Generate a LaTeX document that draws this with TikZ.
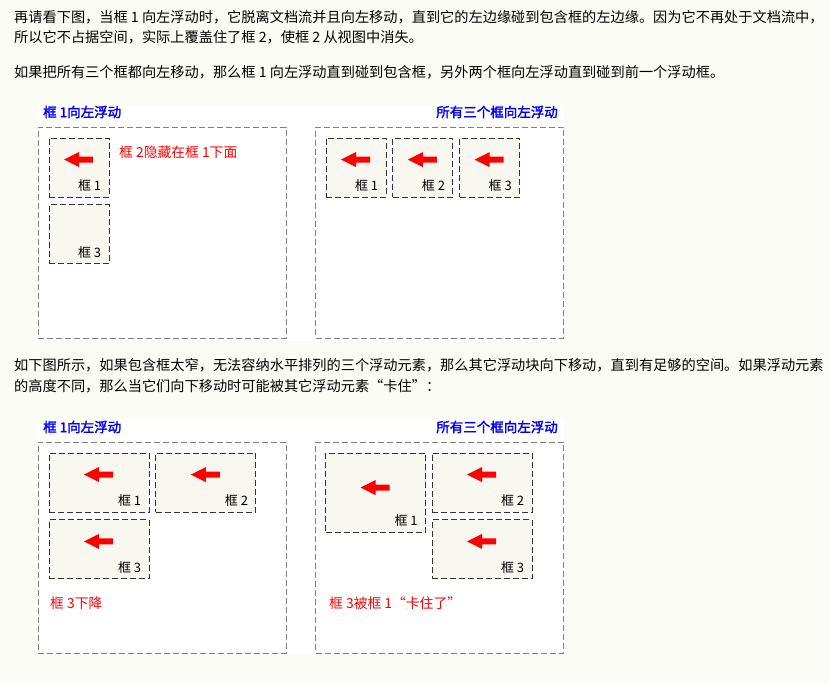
\documentclass[tikz,border=0pt]{standalone}
\usepackage{fontspec}
\setmainfont{Noto Sans CJK SC}
\newfontfamily\titlefont{Noto Sans CJK SC}[FakeBold=2]
\usetikzlibrary{positioning}
\definecolor{pagebg}{RGB}{252,252,246}
\definecolor{boxfill}{RGB}{248,247,240}
\tikzset{
    Panel/.style = {draw=black!50, thick, dash pattern=on 6pt off 3pt, inner sep=0pt, minimum width=248pt, minimum height=211pt}
}
\tikzset{
    Floatbox/.style = {draw=black!80, thick, fill=boxfill, dash pattern=on 6pt off 3pt, inner sep=0pt, minimum height=59pt}
}
\tikzset{
    Leftarrow/.pic = {\fill[red] (-15pt,0pt) -- (0pt,7.5pt) -- (0pt,3pt) -- (14pt,3pt) -- (14pt,-3pt) -- (0pt,-3pt) -- (0pt,-7.5pt) -- cycle;}
}

\begin{document}
\begin{tikzpicture}[x=1pt, y=-1pt]
\tikzset{
    Para/.style = {anchor=west, inner sep=0pt, font=\fontsize{14.2pt}{14.2pt}\selectfont},
    Title/.style = {inner sep=0pt, text=blue, font=\titlefont\fontsize{13.5pt}{13.5pt}\selectfont},
    Note/.style = {anchor=west, inner sep=0pt, text=red, font=\fontsize{13.8pt}{13.8pt}\selectfont},
    Boxlabel/.style = {anchor=east, inner sep=0pt, font=\fontsize{13pt}{13pt}\selectfont},
}
\useasboundingbox[fill=pagebg] (0,0) rectangle (829,684);
\fill[white] (38,105) rectangle (564,341);
\fill[white] (38,420) rectangle (564,655);

% text above and between the panels
\node[Para] (p1) at (14,17) {再请看下图，当框 1 向左浮动时，它脱离文档流并且向左移动，直到它的左边缘碰到包含框的左边缘。因为它不再处于文档流中，};
\node[Para] (p2) at (14,37) {所以它不占据空间，实际上覆盖住了框 2，使框 2 从视图中消失。};
\node[Para] (p3) at (14,72) {如果把所有三个框都向左移动，那么框 1 向左浮动直到碰到包含框，另外两个框向左浮动直到碰到前一个浮动框。};
\node[Para] (p4) at (14,365) {如下图所示，如果包含框太窄，无法容纳水平排列的三个浮动元素，那么其它浮动块向下移动，直到有足够的空间。如果浮动元素};
\node[Para] (p5) at (14,386) {的高度不同，那么当它们向下移动时可能被其它浮动元素“卡住”：};

% top left: box 1 floats left
\node[Title, anchor=west] (t1) at (43,112) {框 1向左浮动};
\node[Panel] at (162,232.5) (P1) {};
\node[Floatbox, minimum width=60pt] at (79,167.5) (a1) {};
\node[Floatbox, minimum width=60pt, below=7pt of a1] (a3) {};
\pic at ([yshift=-22pt]a1.north) {Leftarrow};
\node[Boxlabel] (a1l) at ([shift={(-8pt,12pt)}]a1.south east) {框 1};
\node[Boxlabel] (a3l) at ([shift={(-8pt,12pt)}]a3.south east) {框 3};
\node[Note] (n1) at (119,152) {框 2隐藏在框 1下面};

% top right: all three boxes float left
\node[Title, anchor=east] (t2) at (558,112) {所有三个框向左浮动};
\node[Panel] at (439.5,232.5) (P2) {};
\node[Floatbox, minimum width=60pt] at (356,167.5) (b1) {};
\node[Floatbox, minimum width=60pt, right=6pt of b1] (b2) {};
\node[Floatbox, minimum width=60pt, right=6pt of b2] (b3) {};
\pic at ([yshift=-22pt]b1.north) {Leftarrow};
\pic at ([yshift=-22pt]b2.north) {Leftarrow};
\pic at ([yshift=-22pt]b3.north) {Leftarrow};
\node[Boxlabel] (b1l) at ([shift={(-8pt,12pt)}]b1.south east) {框 1};
\node[Boxlabel] (b2l) at ([shift={(-8pt,12pt)}]b2.south east) {框 2};
\node[Boxlabel] (b3l) at ([shift={(-8pt,12pt)}]b3.south east) {框 3};

% bottom left: box 3 drops down
\node[Title, anchor=west] (t3) at (43,427) {框 1向左浮动};
\node[Panel] at (162,547.5) (P3) {};
\node[Floatbox, minimum width=100pt] at (99,482.5) (c1) {};
\node[Floatbox, minimum width=100pt, right=6pt of c1] (c2) {};
\node[Floatbox, minimum width=100pt, below=7pt of c1] (c3) {};
\pic at ([yshift=-22pt]c1.north) {Leftarrow};
\pic at ([yshift=-22pt]c2.north) {Leftarrow};
\pic at ([yshift=-22pt]c3.north) {Leftarrow};
\node[Boxlabel] (c1l) at ([shift={(-8pt,12pt)}]c1.south east) {框 1};
\node[Boxlabel] (c2l) at ([shift={(-8pt,12pt)}]c2.south east) {框 2};
\node[Boxlabel] (c3l) at ([shift={(-8pt,12pt)}]c3.south east) {框 3};
\node[Note] (n3) at (50,603) {框 3下降};

% bottom right: box 3 caught by box 1
\node[Title, anchor=east] (t4) at (558,427) {所有三个框向左浮动};
\node[Panel] at (439.5,547.5) (P4) {};
\node[Floatbox, minimum width=100pt, minimum height=79pt] at (375.5,492.5) (d1) {};
\node[Floatbox, minimum width=100pt] at (482,482.5) (d2) {};
\node[Floatbox, minimum width=100pt, below=7pt of d2] (d3) {};
\pic at ([yshift=-35pt]d1.north) {Leftarrow};
\pic at ([yshift=-22pt]d2.north) {Leftarrow};
\pic at ([yshift=-22pt]d3.north) {Leftarrow};
\node[Boxlabel] (d1l) at ([shift={(-8pt,12pt)}]d1.south east) {框 1};
\node[Boxlabel] (d2l) at ([shift={(-8pt,12pt)}]d2.south east) {框 2};
\node[Boxlabel] (d3l) at ([shift={(-8pt,12pt)}]d3.south east) {框 3};
\node[Note] (n4) at (329,603) {框 3被框 1“卡住了”};
\end{tikzpicture}
\end{document}
